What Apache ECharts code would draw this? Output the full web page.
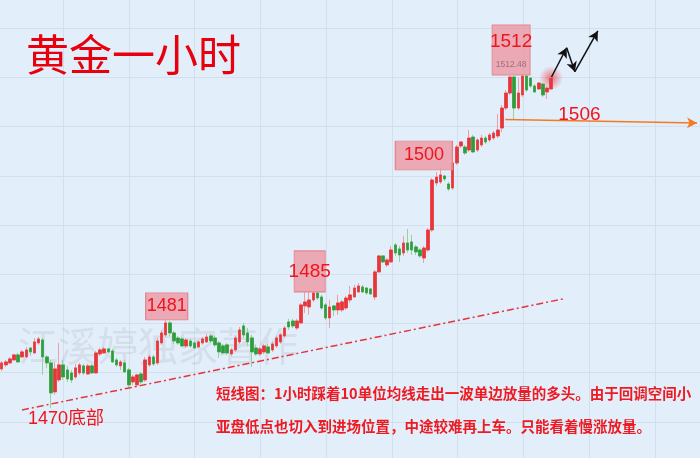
<!DOCTYPE html>
<html><head><meta charset="utf-8">
<script src="https://cdn.jsdelivr.net/npm/echarts@6/dist/echarts.min.js"></script>
<style>html,body{margin:0;padding:0;background:#e2eefa;overflow:hidden;width:700px;height:458px;position:relative}
#c{position:absolute;left:-21px;top:-21px;width:750px;height:492px}</style>
</head><body><div id="c"></div>
<script>
// ---------- data ----------
const slotCount = 171; // hourly slots on the axis (candles + empty room on the right)
const categories = Array.from({length: slotCount}, (_, i) => 'H' + i);
// [open, close, low, high]
const candles = [
[1475.47,1476.23,1475.21,1476.48],[1475.98,1476.36,1475.72,1476.61],[1476.23,1476.74,1476.10,1476.99],
[1476.61,1477.25,1476.48,1477.37],[1477.25,1476.36,1476.23,1477.50],[1476.99,1477.63,1476.87,1477.88],
[1476.99,1477.88,1476.87,1478.26],[1478.13,1477.63,1477.12,1478.26],[1477.50,1478.90,1477.37,1479.40],
[1478.77,1479.28,1478.52,1479.53],[1479.15,1476.99,1474.71,1479.40],[1476.99,1476.23,1475.60,1477.25],
[1476.23,1472.42,1470.51,1476.61],[1472.55,1475.47,1472.17,1476.36],[1474.07,1475.98,1473.82,1478.77],
[1475.98,1474.45,1474.07,1476.61],[1475.34,1474.20,1473.82,1475.85],[1474.96,1474.07,1473.69,1475.34],
[1474.45,1475.60,1474.20,1476.10],[1474.96,1475.98,1474.71,1476.23],[1475.85,1474.96,1474.71,1476.10],
[1474.83,1475.85,1474.71,1476.10],[1475.85,1474.96,1474.83,1476.10],[1474.96,1477.50,1474.83,1477.75],
[1477.37,1477.88,1477.12,1478.13],[1477.50,1478.01,1477.37,1478.26],[1478.01,1477.63,1477.50,1478.13],
[1477.75,1476.36,1476.23,1478.01],[1476.61,1475.98,1475.72,1476.87],[1475.85,1476.36,1475.34,1476.61],
[1476.23,1475.09,1474.96,1476.61],[1475.34,1473.44,1473.18,1475.60],[1473.82,1474.45,1473.44,1474.71],
[1473.44,1474.71,1473.18,1474.83],[1474.83,1473.82,1473.56,1475.09],[1474.07,1476.61,1473.82,1476.99],
[1475.98,1476.99,1475.72,1477.25],[1476.99,1476.10,1475.85,1477.25],[1476.23,1479.02,1475.98,1479.40],
[1478.77,1480.04,1478.52,1480.42],[1479.79,1481.31,1479.53,1481.69],[1481.31,1480.04,1479.66,1481.56],
[1480.04,1479.02,1478.64,1480.29],[1479.40,1478.77,1478.52,1479.66],[1479.28,1478.39,1478.26,1479.53],
[1478.39,1479.15,1478.13,1479.40],[1479.02,1478.39,1478.13,1479.28],[1478.77,1478.13,1478.01,1479.02],
[1478.26,1478.90,1478.13,1479.15],[1478.77,1479.28,1478.52,1479.53],[1478.90,1479.53,1478.77,1479.91],
[1479.66,1479.02,1478.77,1479.91],[1479.40,1478.52,1478.26,1479.66],[1478.77,1477.63,1476.87,1479.02],
[1478.39,1477.50,1477.37,1478.64],[1478.52,1477.50,1477.25,1478.77],[1477.37,1477.88,1477.12,1478.13],
[1477.88,1479.40,1477.63,1479.66],[1478.90,1480.42,1478.64,1480.80],[1480.93,1479.79,1479.40,1481.31],
[1480.04,1478.90,1478.39,1480.67],[1479.40,1477.63,1475.72,1479.79],[1478.13,1477.37,1477.12,1478.52],
[1477.37,1478.01,1477.12,1478.26],[1477.63,1478.39,1477.37,1478.64],[1478.26,1477.50,1477.37,1478.64],
[1477.88,1478.64,1477.63,1478.90],[1478.39,1479.40,1478.13,1479.66],[1478.90,1479.79,1478.64,1480.04],
[1479.66,1480.67,1479.40,1480.93],[1481.44,1480.80,1480.42,1481.82],[1481.56,1480.93,1480.67,1481.82],
[1480.67,1481.56,1480.42,1481.82],[1481.31,1483.60,1481.18,1483.85],[1483.47,1483.98,1482.58,1485.25],
[1483.34,1484.23,1482.33,1485.25],[1484.23,1485.12,1483.98,1485.25],[1485.12,1484.48,1484.23,1485.25],
[1484.61,1483.21,1482.96,1484.87],[1483.60,1481.95,1481.69,1483.85],[1481.95,1483.34,1480.67,1484.23],
[1483.47,1482.96,1482.20,1483.60],[1482.96,1483.85,1482.33,1484.87],[1482.96,1483.98,1482.71,1484.23],
[1483.21,1484.48,1482.96,1484.74],[1484.23,1484.87,1483.85,1486.01],[1484.61,1485.75,1484.48,1486.14],
[1485.25,1486.01,1485.12,1486.39],[1485.88,1485.25,1485.12,1486.14],[1485.75,1485.12,1484.87,1485.88],
[1485.63,1484.99,1484.87,1485.75],[1484.61,1487.79,1484.23,1488.04],[1487.79,1489.82,1487.66,1489.94],
[1489.82,1489.06,1488.93,1489.94],[1488.68,1489.31,1488.42,1489.56],[1489.06,1490.58,1488.93,1491.09],
[1491.22,1490.20,1489.82,1491.47],[1490.71,1489.94,1489.06,1491.09],[1490.20,1491.47,1489.82,1492.36],
[1491.47,1490.58,1490.20,1493.25],[1491.60,1490.58,1489.94,1492.49],[1490.96,1490.33,1489.94,1491.22],
[1490.58,1489.82,1489.56,1490.83],[1489.56,1490.83,1488.93,1491.09],[1490.58,1493.12,1490.33,1493.37],
[1493.12,1499.47,1492.87,1499.72],[1499.09,1499.85,1498.71,1500.49],[1499.22,1500.11,1498.96,1500.99],
[1499.98,1499.60,1499.34,1500.11],[1498.96,1498.33,1498.07,1499.22],[1498.45,1501.63,1498.20,1501.88],
[1501.63,1503.66,1501.38,1503.92],[1503.79,1504.30,1503.53,1504.42],[1503.66,1502.90,1502.65,1503.92],
[1503.28,1504.80,1503.03,1505.82],[1504.93,1503.03,1502.90,1505.19],[1503.28,1504.55,1503.03,1504.80],
[1503.92,1504.80,1503.66,1505.19],[1504.80,1504.30,1504.04,1505.06],[1504.55,1505.19,1504.30,1505.44],
[1504.80,1505.44,1504.55,1505.69],[1505.06,1505.82,1504.80,1507.85],[1506.07,1508.61,1505.57,1508.99],
[1508.61,1510.52,1508.36,1510.90],[1510.52,1512.55,1510.27,1512.68],[1512.55,1508.61,1507.09,1512.68],
[1508.61,1510.52,1508.36,1512.42],[1510.27,1512.68,1510.01,1512.81],[1512.68,1510.90,1510.65,1512.81],
[1512.42,1511.41,1511.15,1512.55],[1511.41,1510.65,1510.52,1511.66],[1511.03,1511.79,1510.90,1511.91],
[1511.66,1510.27,1510.01,1511.79],[1510.65,1511.15,1509.76,1511.41],[1511.03,1512.42,1510.90,1512.55]
];
// annotation lines, in [slot index, price]
const trendLine = [[4.95, 1470.26], [136.9, 1484.36]];
const supportLine = [[122.8, 1507.15], [169.6, 1506.71]];
const forecastPath = [[134.1, 1512.55], [137.8, 1516.27], [139.8, 1513.22], [145.4, 1518.40]];
// peak boxes
const peakIdx = [40, 75, 107, 124];
const peakPrice = [1481.69, 1485.25, 1500.99, 1512.68];
const peakText = ['1481', '1485', '1500', '1512'];
const peakHigh = '1512.48';
const lowIdx = 12, lowPrice = 1470.51, lowText = '1470底部';
const supportText = '1506', supportLabelAt = [140.9, 1507.79];
const glowIdx = 134, glowPrice = 1512.42;
const titleText = '黄金一小时';
const watermarkText = '江溪婷独家著作';
const noteLines = ['短线图：1小时踩着10单位均线走出一波单边放量的多头。由于回调空间小',
                   '亚盘低点也切入到进场位置，中途较难再上车。只能看着慢涨放量。'];

// ---------- styles ----------
const RED = '#f0141c';
const NUM_FONT = "'Liberation Sans Narrow','Liberation Sans',Arial,sans-serif";
const boxStyle = [
  {size:[42,27], off:[1,-13.5], fs:18},
  {size:[31,41], off:[0.5,-20.5], fs:19},
  {size:[57,29], off:[-16.5,-12.5], fs:18},
  {size:[38,50], off:[1,-26], fs:19}
];

const bodies = candles.map(c => [c[0], c[1], Math.min(c[0], c[1]), Math.max(c[0], c[1])]);

const peakPoints = peakIdx.map((ix, k) => ({
  coord: [categories[ix], peakPrice[k]],
  symbol: 'rect', symbolSize: boxStyle[k].size, symbolOffset: boxStyle[k].off,
  itemStyle: {color: 'rgba(236,150,160,0.78)', borderColor: '#e5848f', borderWidth: 1},
  label: k === 3 ? {
    show: true, position: 'inside',
    formatter: '{a|' + peakText[k] + '}\n{b|' + peakHigh + '}',
    rich: {a: {fontFamily: NUM_FONT, fontSize: boxStyle[k].fs, color: RED, lineHeight: 30, padding:[0,0,4,0]},
           b: {fontFamily: 'Liberation Sans,Arial,sans-serif', fontSize: 8.5, color: '#a07078', lineHeight: 12}}
  } : {
    show: true, position: 'inside', formatter: peakText[k],
    fontFamily: NUM_FONT, fontSize: boxStyle[k].fs, color: RED
  }
}));

const chart = echarts.init(document.getElementById('c'), null, {renderer: 'canvas'});
chart.setOption({
  animation: false,
  backgroundColor: '#e2eefa',
  grid: [
    {left: 20.65, right: 28.25, top: 0, bottom: 0},
    {left: 18.22, right: 8.2, top: 0, bottom: 0}
  ],
  xAxis: [
    {type: 'category', gridIndex: 0, data: categories, boundaryGap: true, show: false},
    {type: 'value', gridIndex: 0, min: -0.5, max: slotCount - 0.5, show: false},
    {type: 'value', gridIndex: 1, min: 0, max: 11, interval: 1, show: true,
     axisLine: {show: false}, axisTick: {show: false}, axisLabel: {show: false},
     splitLine: {show: true, lineStyle: {color: '#d2dfec', width: 1}}}
  ],
  yAxis: [
    {type: 'value', gridIndex: 0, min: 1462.5, max: 1525, interval: 6.25, show: true,
     axisLine: {show: false}, axisTick: {show: false}, axisLabel: {show: false},
     splitLine: {show: true, lineStyle: {color: '#d2dfec', width: 1}}},
    {type: 'value', gridIndex: 1, min: 0, max: 1, show: false}
  ],
  graphic: [{
    type: 'group', x: 21, y: 21, children: [
      {type: 'text', x: 26, y: 55, z: 1, style: {text: titleText, font: "43px 'Noto Sans CJK SC'", fill: '#e8000c', textVerticalAlign: 'middle'}},
      {type: 'text', x: 18, y: 346, z: 1, style: {text: watermarkText, font: "40px 'Noto Sans CJK SC'", fill: 'rgba(170,180,190,0.25)', textVerticalAlign: 'middle'}},
      {type: 'text', x: 216, y: 393, z: 1, style: {text: noteLines[0], font: "bold 14.5px 'Noto Sans CJK SC'", fill: '#ee1a22', textVerticalAlign: 'middle'}},
      {type: 'text', x: 216, y: 426, z: 1, style: {text: noteLines[1], font: "bold 14.5px 'Noto Sans CJK SC'", fill: '#ee1a22', textVerticalAlign: 'middle'}}
    ]
  }],
  series: [
    {
      type: 'candlestick', name: 'wick', xAxisIndex: 0, yAxisIndex: 0, data: candles, barWidth: 3,
      itemStyle: {color: '#ee9ea2', color0: '#97d19d', borderColor: '#ee9ea2', borderColor0: '#97d19d', borderWidth: 1}
    },
    {
      type: 'candlestick', name: 'body', xAxisIndex: 0, yAxisIndex: 0, data: bodies, barWidth: 3,
      itemStyle: {color: '#e5363b', color0: '#2f9d3e', borderColor: '#e5363b', borderColor0: '#2f9d3e', borderWidth: 0.6},
      markPoint: {
        silent: true,
        data: peakPoints.concat([{
          coord: [categories[lowIdx], lowPrice], symbol: 'circle', symbolSize: 1,
          itemStyle: {color: 'rgba(0,0,0,0)'},
          label: {show: true, formatter: lowText, position: 'inside', offset: [15, 11],
                  fontFamily: NUM_FONT + ",'Noto Sans CJK SC'", fontSize: 18, color: RED}
        }])
      }
    },
    {
      type: 'scatter', xAxisIndex: 0, yAxisIndex: 0, data: [[categories[glowIdx], glowPrice]], symbolSize: 24, z: 1,
      itemStyle: {color: {type: 'radial', x: 0.5, y: 0.5, r: 0.5,
        colorStops: [{offset: 0, color: 'rgba(238,40,50,0.85)'}, {offset: 0.45, color: 'rgba(238,60,70,0.45)'}, {offset: 1, color: 'rgba(238,60,70,0)'}]}}
    },
    {
      type: 'line', xAxisIndex: 1, yAxisIndex: 0, data: trendLine, showSymbol: false, z: 3,
      lineStyle: {color: '#e6343a', width: 1.5, type: [7, 3, 2, 3]},
      markLine: {
        silent: true, animation: false, label: {show: false},
        data: [
          [{coord: supportLine[0], symbol: 'none', lineStyle: {color: '#f47a22', width: 1.6, type: 'solid'}},
           {coord: supportLine[1], symbol: 'arrow', symbolSize: [8, 10]}]
        ].concat(forecastPath.slice(1).map((p, k) => [
          {coord: forecastPath[k], symbol: 'none', lineStyle: {color: '#111111', width: 1.5, type: 'solid'}},
          {coord: p, symbol: 'arrow', symbolSize: [8, 10]}
        ]))
      },
      markPoint: {
        silent: true,
        data: [{coord: supportLabelAt, symbol: 'circle', symbolSize: 1, itemStyle: {color: 'rgba(0,0,0,0)'},
                label: {show: true, formatter: supportText, position: 'inside', fontFamily: NUM_FONT, fontSize: 19, color: RED}}]
      }
    }
  ]
});
</script></body></html>
